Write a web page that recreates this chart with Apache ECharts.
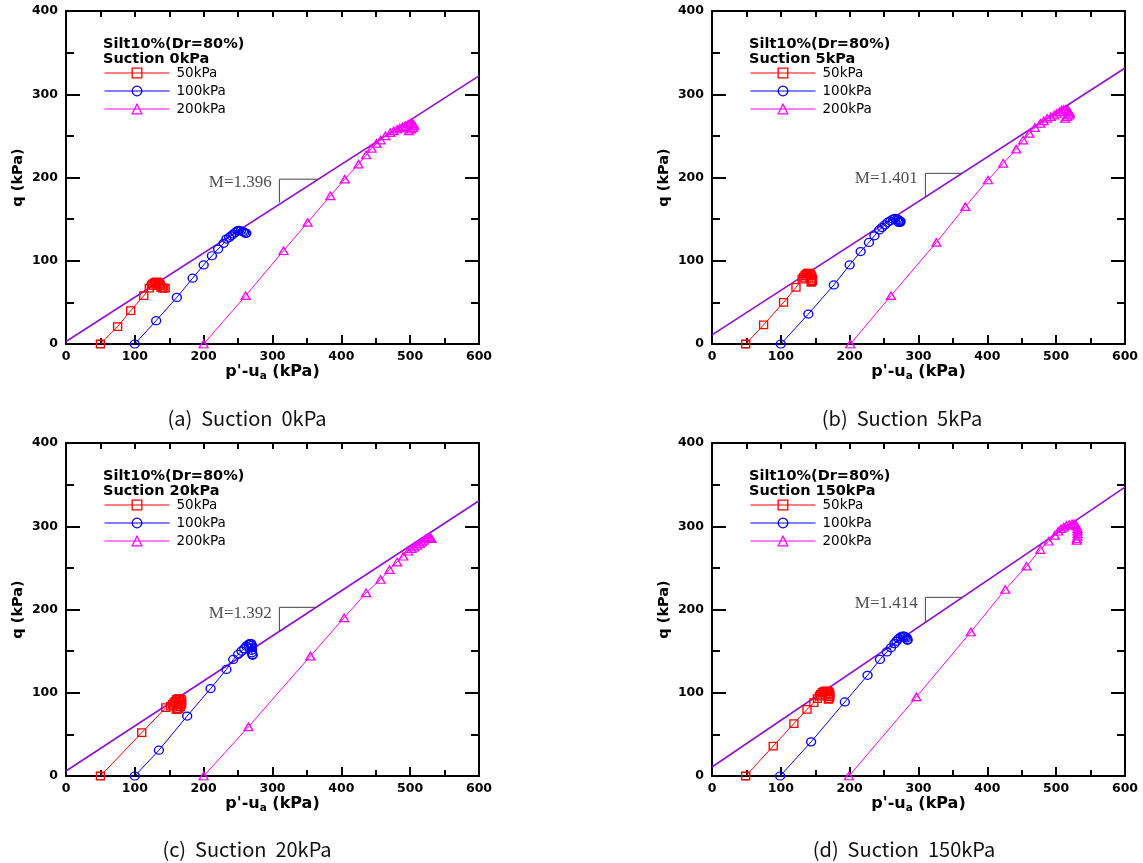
<!DOCTYPE html>
<html>
<head>
<meta charset="utf-8">
<script src="https://cdn.jsdelivr.net/npm/echarts@6/dist/echarts.min.js"></script>
<style>
html,body{margin:0;padding:0;background:#fff;}
#chart{width:1143px;height:863px;}
</style>
</head>
<body>
<div id="chart"></div>
<script>
// Stress paths [p'-ua, q] in kPa for each suction level and confining pressure
const panelTags = ['(a)', '(b)', '(c)', '(d)'];
const suctions = ['0kPa', '5kPa', '20kPa', '150kPa'];
const confining = ['50kPa', '100kPa', '200kPa'];
const mValues = ['1.396', '1.401', '1.392', '1.414'];
const xTickValues = [0, 100, 200, 300, 400, 500, 600];
const yTickValues = [0, 100, 200, 300, 400];

const path50S0 = [[50,0],[75,21],[94,40],[113,58],[121,67],[124,70],[126,72],[128,73],[130,74],[132,74.5],[134,74],[136,72],[137,70],[138,68],[140,67],[142,67],[144,67]];
const path100S0 = [[100,0],[131,28],[161,56],[184,79],[200,95],[212,106],[221,114],[229,121],[233,126],[237,128],[240,130],[243,132],[246,134],[249,136],[251,136.5],[254,136],[257,135],[259,134],[261,133],[262,133]];
const path200S0 = [[200,0],[261,58],[316,112],[351,146],[384,178],[405,198],[425,216],[436,227],[444,235],[451,241],[457,245],[464,250],[471,254],[476,256],[481,258],[485,259.5],[489,261],[493,262.5],[497,264],[500,265],[503,265],[505,264],[506,262],[504,260],[501,258],[498,256]];

const path50S5 = [[49,0],[75,23],[104,50],[122,68],[131,78],[133,80],[135,82],[137,84],[139,85],[141,85],[143,84],[144,82],[145,80],[146,78],[146,76],[145,75],[144,74]];
const path100S5 = [[100,0],[140,36],[177,71],[200,95],[216,111],[228,122],[236,130],[243,137],[247,140],[251,143],[255,146],[259,148],[263,150],[266,151],[269,150],[271,149],[273,148],[274,147],[273,146],[271,146]];
const path200S5 = [[201,0],[260,58],[326,122],[368,165],[401,197],[423,217],[442,234],[452,245],[461,253],[469,260],[477,265],[482,268],[487,271],[492,273],[497,275],[501,277],[505,279],[508,281],[511,282],[514,282],[517,281],[519,279],[520,277],[519,275],[516,273],[513,271]];

const path50S20 = [[50,0],[110,52],[145,82],[152,84],[155,86],[157,88],[159,90],[161,92],[163,93],[165,93],[167,92],[168,90],[168,87],[167,85],[166,83],[164,81],[162,80],[160,80]];
const path100S20 = [[100,0],[135,31],[176,72],[210,105],[233,128],[243,140],[250,146],[255,150],[259,153],[262,156],[265,158],[267,159],[269,159],[270,157],[270,154],[270,151],[270,148],[271,146],[271,145]];
const path200S20 = [[200,0],[265,59],[355,144],[404,190],[436,220],[457,236],[470,248],[481,257],[490,264],[497,270],[502,273],[506,275],[510,277],[514,279],[517,281],[520,283],[523,285],[526,286],[528,287],[530,286],[531,285]];

const path50S150 = [[49,0],[89,36],[119,63],[138,80],[148,88],[153,93],[156,96],[158,98],[160,100],[162,101],[164,102],[166,102],[168,102],[170,101],[171,99],[171,97],[171,95],[170,93],[169,92]];
const path100S150 = [[99,0],[144,41],[193,89],[226,121],[244,140],[254,149],[260,154],[265,159],[268,162],[271,165],[274,167],[277,168],[279,168],[281,167],[283,166],[284,164],[284,163]];
const path200S150 = [[199,0],[297,95],[376,173],[426,224],[457,252],[477,272],[489,282],[498,289],[503,294],[507,297],[511,299],[515,301],[519,302],[523,303],[526,303],[528,302],[530,300],[531,297],[531,294],[531,291],[531,288],[530,285],[530,283]];

// Failure (critical state) lines, end points at p'-ua = 0 and 600
const cslS0 = [[0,3],[600,322]];
const cslS5 = [[0,11],[600,331.5]];
const cslS20 = [[0,6],[600,330.6]];
const cslS150 = [[0,10.8],[600,347]];

// Slope marks: foot on the line, corner, end on the line
const slopeS0 = [[310,169.9],[310,198],[366,198]];
const slopeS5 = [[310,176.5],[310,205],[363,205]];
const slopeS20 = [[310,173.7],[310,202.6],[363,202.6]];
const slopeS150 = [[310,184.4],[310,214.6],[364,214.6]];

// Anchor (right end) of each M label
const mLabelAt = [[299,194],[299,198.6],[299,195],[299,207]];

const pathSets = [
  [path50S0, path100S0, path200S0],
  [path50S5, path100S5, path200S5],
  [path50S20, path100S20, path200S20],
  [path50S150, path100S150, path200S150]
];
const cslSets = [cslS0, cslS5, cslS20, cslS150];
const slopeSets = [slopeS0, slopeS5, slopeS20, slopeS150];

// ---------- layout & style ----------
const boxes = [
  {left: 66, top: 11},
  {left: 712, top: 11},
  {left: 66, top: 443},
  {left: 712, top: 443}
];
const PW = 413, PH = 333;
const captionPos = [[247, 418], [902, 418], [247, 849], [904, 849]];

const seriesStyle = [
  {color: '#ff0000', symbol: 'rect', size: [8, 7.5]},
  {color: '#0000ff', symbol: 'circle', size: [9, 8]},
  {color: '#ff00ff', symbol: 'triangle', size: [9, 7.5]}
];
const boldFont = 'DejaVu Sans';

const grids = [], xAxes = [], yAxes = [], series = [], legends = [], titles = [], graphics = [];

boxes.forEach((b, i) => {
  grids.push({left: b.left, top: b.top, width: PW, height: PH, containLabel: false});

  const tickLine = {color: '#000', width: 2};
  // bottom axis with labels
  xAxes.push({
    type: 'value', gridIndex: i, min: 0, max: 600, interval: 100, position: 'bottom',
    name: "p'-u{s|a} (kPa)", nameLocation: 'middle', nameGap: 18,
    nameTextStyle: {
      fontFamily: boldFont, fontWeight: 'bold', fontSize: 16, color: '#000',
      rich: {s: {fontFamily: boldFont, fontWeight: 'bold', fontSize: 10.5, color: '#000', verticalAlign: 'bottom', padding: [8, 0, 0, 0]}}
    },
    axisLine: {show: true, onZero: false, lineStyle: {color: '#000', width: 2}},
    axisTick: {show: true, inside: true, length: 9, lineStyle: tickLine},
    minorTick: {show: true, splitNumber: 2, length: 6, lineStyle: tickLine},
    axisLabel: {show: true, margin: 6, fontFamily: boldFont, fontWeight: 'bold', fontSize: 12.5, color: '#000',
      customValues: xTickValues},
    splitLine: {show: false}
  });
  // top mirror axis, ticks only
  xAxes.push({
    type: 'value', gridIndex: i, min: 0, max: 600, interval: 100, position: 'top',
    axisLine: {show: true, onZero: false, lineStyle: {color: '#000', width: 2}},
    axisTick: {show: true, inside: true, length: 6, lineStyle: tickLine},
    minorTick: {show: true, splitNumber: 2, length: 6, lineStyle: tickLine},
    axisLabel: {show: false}, splitLine: {show: false}
  });
  // left axis with labels
  yAxes.push({
    type: 'value', gridIndex: i, min: 0, max: 400, interval: 100, position: 'left',
    name: 'q (kPa)', nameLocation: 'middle', nameGap: 40, nameRotate: 90,
    nameTextStyle: {fontFamily: boldFont, fontWeight: 'bold', fontSize: 14.5, color: '#000'},
    axisLine: {show: true, onZero: false, lineStyle: {color: '#000', width: 2}},
    axisTick: {show: true, inside: true, length: 14, lineStyle: tickLine},
    minorTick: {show: true, splitNumber: 2, length: 8, lineStyle: tickLine},
    axisLabel: {show: true, margin: 8, fontFamily: boldFont, fontWeight: 'bold', fontSize: 12.5, color: '#000',
      customValues: yTickValues},
    splitLine: {show: false}
  });
  // right mirror axis, ticks only
  yAxes.push({
    type: 'value', gridIndex: i, min: 0, max: 400, interval: 100, position: 'right',
    axisLine: {show: true, onZero: false, lineStyle: {color: '#000', width: 2}},
    axisTick: {show: true, inside: true, length: 14, lineStyle: tickLine},
    minorTick: {show: true, splitNumber: 2, length: 8, lineStyle: tickLine},
    axisLabel: {show: false}, splitLine: {show: false}
  });

  const xi = i * 2, yi = i * 2;

  // failure line
  series.push({
    type: 'line', xAxisIndex: xi, yAxisIndex: yi, data: cslSets[i], symbol: 'none',
    lineStyle: {color: '#9010d0', width: 1.6}, silent: true, clip: false, z: 2
  });
  // slope mark
  series.push({
    type: 'line', xAxisIndex: xi, yAxisIndex: yi, data: slopeSets[i], symbol: 'none',
    lineStyle: {color: '#444', width: 1}, silent: true, clip: false, z: 2
  });
  // M label
  series.push({
    type: 'scatter', xAxisIndex: xi, yAxisIndex: yi, data: [mLabelAt[i]], symbolSize: 0.1,
    itemStyle: {color: 'rgba(0,0,0,0)'}, silent: true, z: 3,
    label: {show: true, position: 'left', distance: 0, formatter: 'M=' + mValues[i],
      fontFamily: 'Liberation Serif', fontSize: 17, color: '#222'}
  });
  // stress paths
  pathSets[i].forEach((pts, k) => {
    const st = seriesStyle[k];
    series.push({
      name: confining[k], type: 'line', xAxisIndex: xi, yAxisIndex: yi, data: pts,
      symbol: st.symbol, symbolSize: st.size, showSymbol: true, clip: false, z: 4,
      lineStyle: {color: st.color, width: 1},
      itemStyle: {color: 'rgba(255,255,255,0)', borderColor: st.color, borderWidth: 1.3},
      emphasis: {disabled: true}
    });
  });

  titles.push({
    text: 'Silt10%(Dr=80%)\nSuction ' + suctions[i],
    left: b.left + 37, top: b.top + 26, padding: 0,
    textStyle: {fontFamily: boldFont, fontWeight: 'bold', fontSize: 14.5, lineHeight: 15, color: '#000'}
  });

  legends.push({
    orient: 'vertical', left: b.left + 38, top: b.top + 55, padding: 0,
    itemWidth: 65, itemHeight: 12, itemGap: 4, selectedMode: false,
    data: confining,
    itemStyle: {borderWidth: 1.3},
    lineStyle: {width: 1},
    textStyle: {fontFamily: 'DejaVu Sans', fontSize: 13.5, color: '#000', padding: [0, 0, 0, 2]}
  });

  graphics.push({
    type: 'text', x: captionPos[i][0], y: captionPos[i][1],
    style: {
      text: panelTags[i] + '  Suction  ' + suctions[i],
      font: '20px "Noto Sans CJK KR"', fill: '#111',
      textAlign: 'center', textVerticalAlign: 'middle'
    }
  });
});

const chart = echarts.init(document.getElementById('chart'), null, {renderer: 'canvas'});
chart.setOption({
  animation: false,
  backgroundColor: '#fff',
  title: titles,
  legend: legends,
  grid: grids,
  xAxis: xAxes,
  yAxis: yAxes,
  series: series,
  graphic: graphics
});
</script>
</body>
</html>
